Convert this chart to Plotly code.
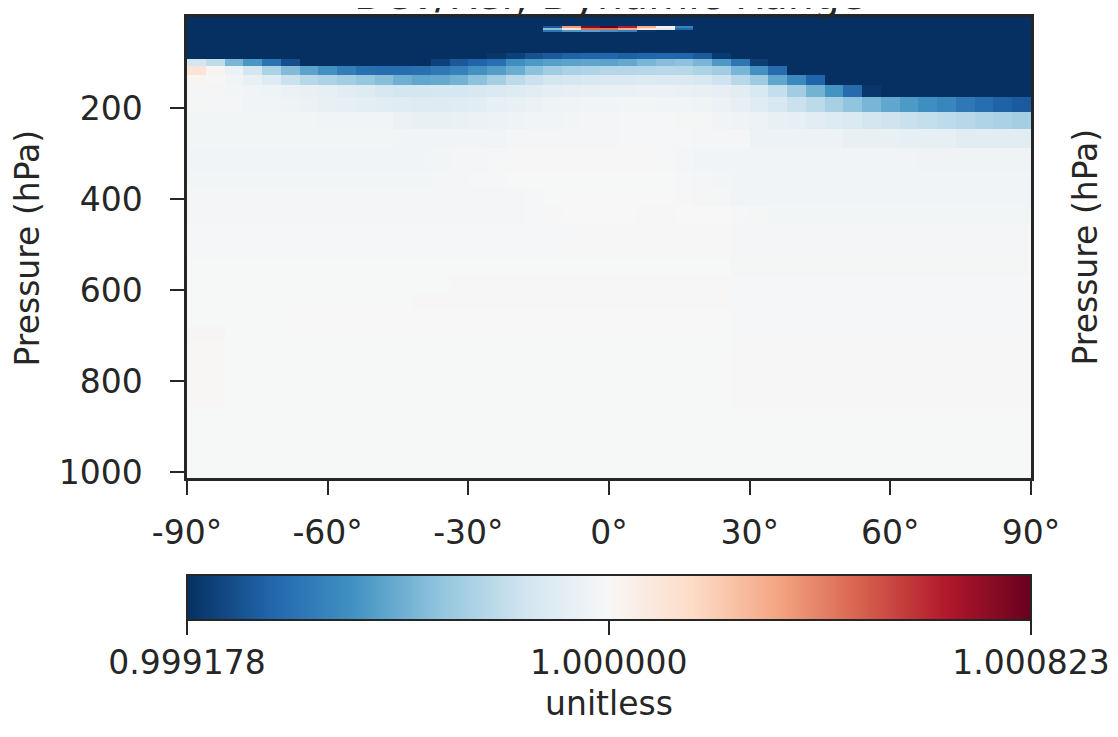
import plotly.graph_objects as go

# ---------------- data ----------------
# latitude cell edges (degrees)
lat_edges = list(range(-90, 91, 4))
# pressure cell edges (hPa), top -> surface (GEOS 72-level edges, upper saturated levels merged)
pressure_edges = [0.01, 19.79, 23.73, 28.37, 33.81, 78.51, 92.37, 108.66, 127.84, 150.39,
                  176.93, 208.24, 245.25, 288.92, 339.01, 377.07, 415.15, 453.27, 491.40,
                  529.55, 567.71, 605.88, 644.05, 682.24, 707.70, 733.16, 758.63, 784.09,
                  809.56, 829.93, 845.21, 860.49, 875.78, 891.06, 906.34, 921.62, 936.91,
                  952.19, 967.48, 982.76, 998.05, 1013.25]

# Dev/Ref ratio deviations from 1, in parts per million, one row per layer
# entries are either a value or a (value, run-length) pair, 45 latitude cells per row
dev_0000_0198 = [(-900, 45)]
dev_0198_0237 = [(-900, 19), -700, 350, 750, 850, 650, 300, 50, -550, (-900, 18)]
dev_0237_0284 = [(-900, 19), -350, 100, 450, 450, 300, 100, -100, -650, (-900, 18)]
dev_0284_0338 = [(-900, 19), -600, -480, -450, -500, -560, -800, (-900, 20)]
dev_0338_0785 = [(-900, 45)]
dev_0785_0924 = [(-900, 16), -800, -770, -720, -690, -670, -660, -660, -675, -660, -650,
                 -655, -690, -790, (-900, 16)]
dev_0924_1087 = [-150, -210, -380, -480, -610, -730, -880, (-900, 6), -770, -700, -665, -625,
                 -510, -470, -450, -440, -435, -440, -420, -380, -350, -335, -380, -470, -600,
                 -780, (-900, 14)]
dev_1087_1278 = [110, 20, -50, -150, -260, -360, -440, -500, -570, -620, -630, -630, -620,
                 -590, -560, -500, -460, -410, -340, -290, -265, -250, -240, -240, -235, -230,
                 -235, -260, -290, -380, -500, -640, -860, (-900, 12)]
dev_1278_1504 = [20, 5, -25, -60, -110, -180, -230, -260, -285, -320, -350, -400, -430, -420,
                 -390, -340, -280, -220, -180, -155, -145, -130, -120, -120, -118, -120, -125,
                 -135, -175, -230, -300, -430, -530, -660, -850, (-900, 10)]
dev_1504_1769 = [-15, -18, -20, -28, -40, -50, -65, -75, -95, -110, -140, -150, -150, -148,
                 -145, -138, -125, -110, -95, -80, -70, -62, -58, -55, -52, -52, -55, -60, -70,
                 -90, -130, -200, -290, -390, -490, -640, -800, (-900, 8)]
dev_1769_2082 = [-12, -15, -18, -25, -30, -40, -50, -60, -75, -85, -95, -100, -105, -105, -100,
                 -90, -75, -62, -50, -40, -32, -28, -25, -22, -22, -25, -30, -38, -50, -70,
                 -100, -140, -180, -220, -270, -330, -380, -430, -470, -510, -540, -590, -630,
                 -670, -690]
dev_2082_2453 = [(-20, 7), (-28, 4), -50, -60, -60, -55, -50, -45, -38, -30, -25, -20, -18, -15,
                 -10, -8, -10, -12, -18, -25, -35, -45, -60, -75, -90, -110, -125, -150, -170,
                 -185, -200, -215, -230, -250, -265, -280]
dev_2453_2889 = [(-20, 11), (-28, 6), (-15, 6), (-8, 4), (-18, 3), (-45, 5), (-65, 3), (-72, 3), (-90, 4)]
dev_2889_3390 = [(-25, 13), -20, -16, -12, -8, (-5, 8), -10, -18, -24, (-30, 11), (-36, 6)]
dev_3390_3771 = [(-22, 13), -18, -14, -10, -6, (-3, 9), -8, -15, -22, (-28, 16)]
dev_3771_4152 = [(-18, 17), -14, -9, -4, (0, 6), -5, -12, -18, (-25, 16)]
dev_4152_4533 = [(-15, 18), -10, -5, (0, 4), (4, 2), (0, 3), -6, -12, (-20, 14)]
dev_4533_4914 = [(-10, 12), (-8, 9), (5, 8), (-15, 16)]
dev_4914_5296 = [(-8, 20), (5, 9), (-15, 16)]
dev_5296_5677 = [(-3, 29), (-12, 16)]
dev_5677_6059 = [(-3, 14), (4, 15), (-10, 16)]
dev_6059_6441 = [(-3, 12), (6, 17), (-8, 16)]
dev_6441_6822 = [(-3, 5), (0, 24), (-8, 16)]
dev_6822_7077 = [(10, 2), (-2, 27), (-6, 16)]
dev_lower_trop = [(8, 2), (-2, 27), (-5, 16)]      # 708-860 hPa layers (7)
dev_boundary = [(-3, 29), (-4, 16)]                # 860-1013 hPa layers (10)

rows = ([dev_0000_0198, dev_0198_0237, dev_0237_0284, dev_0284_0338, dev_0338_0785,
         dev_0785_0924, dev_0924_1087, dev_1087_1278, dev_1278_1504, dev_1504_1769,
         dev_1769_2082, dev_2082_2453, dev_2453_2889, dev_2889_3390, dev_3390_3771,
         dev_3771_4152, dev_4152_4533, dev_4533_4914, dev_4914_5296, dev_5296_5677,
         dev_5677_6059, dev_6059_6441, dev_6441_6822, dev_6822_7077]
        + [dev_lower_trop] * 7 + [dev_boundary] * 10)

cbar_min, cbar_mid, cbar_max = 0.999178, 1.000000, 1.000823
cbar_labels = ["0.999178", "1.000000", "1.000823"]
lat_ticks = [-90, -60, -30, 0, 30, 60, 90]
lat_labels = ["-90°", "-60°", "-30°", "0°", "30°", "60°", "90°"]
p_ticks = [200, 400, 600, 800, 1000]


def expand(row):
    out = []
    for item in row:
        if isinstance(item, tuple):
            out += [item[0]] * item[1]
        else:
            out.append(item)
    return out


z = [[1.0 + v * 1e-6 for v in expand(r)] for r in rows]

# matplotlib RdBu_r
rdbu_r = ["#053061", "#2166ac", "#4393c3", "#92c5de", "#d1e5f0", "#f7f7f7",
          "#fddbc7", "#f4a582", "#d6604d", "#b2182b", "#67001f"]
colorscale = [[i / 10, c] for i, c in enumerate(rdbu_r)]

INK = "#262626"
FONT = "DejaVu Sans"

fig = go.Figure(go.Heatmap(
    x=lat_edges, y=pressure_edges, z=z,
    zmin=cbar_min, zmax=cbar_max, colorscale=colorscale,
    colorbar=dict(
        orientation="h", x=0.5, xanchor="center", len=1.0, lenmode="fraction",
        y=-0.2104, yanchor="top", yref="paper", thickness=45, thicknessmode="pixels",
        xpad=0, ypad=0,
        outlinewidth=2, outlinecolor=INK,
        tickvals=[cbar_min, cbar_mid, cbar_max], ticktext=cbar_labels,
        ticks="outside", ticklen=14, tickwidth=2, tickcolor=INK,
        tickfont=dict(family=FONT, size=33, color=INK),
        title=dict(text="unitless", side="bottom", font=dict(family=FONT, size=33, color=INK)),
    ),
))

# the page body adds an 8 px offset, so the figure is 8 px smaller than the window
fig.update_layout(
    width=1110, height=729,
    margin=dict(l=179, r=87, t=9, b=259, autoexpand=False),
    paper_bgcolor="white", plot_bgcolor="white",
    font=dict(family=FONT, size=33, color=INK),
    showlegend=False,
)
fig.update_xaxes(
    range=[-90, 90], tickvals=lat_ticks, ticktext=lat_labels,
    ticks="outside", ticklen=14, tickwidth=2, tickcolor=INK,
    showline=True, linecolor=INK, linewidth=2.5, mirror=True,
    showgrid=False, zeroline=False, ticklabelstandoff=10,
    tickfont=dict(family=FONT, size=33, color=INK),
)
fig.update_yaxes(
    range=[1013.25, 0.01], tickvals=p_ticks,
    ticks="outside", ticklen=14, tickwidth=2, tickcolor=INK,
    showline=True, linecolor=INK, linewidth=2.5, mirror=True,
    showgrid=False, zeroline=False, ticklabelstandoff=21,
    tickfont=dict(family=FONT, size=33, color=INK),
)

fig.add_annotation(text="Dev/Ref, Dynamic Range", xref="paper", yref="paper",
                   x=0.5, y=1, xanchor="center", yanchor="bottom", yshift=-4,
                   showarrow=False, font=dict(family=FONT, size=41, color=INK))
fig.add_annotation(text="Pressure (hPa)", xref="paper", yref="paper",
                   x=-0.1884, y=0.5, xanchor="center", yanchor="middle", textangle=-90,
                   showarrow=False, font=dict(family=FONT, size=33, color=INK))
fig.add_annotation(text="Pressure (hPa)", xref="paper", yref="paper",
                   x=1.064, y=0.5, xanchor="center", yanchor="middle", textangle=-90,
                   showarrow=False, font=dict(family=FONT, size=33, color=INK))

fig.write_html("out.html")
